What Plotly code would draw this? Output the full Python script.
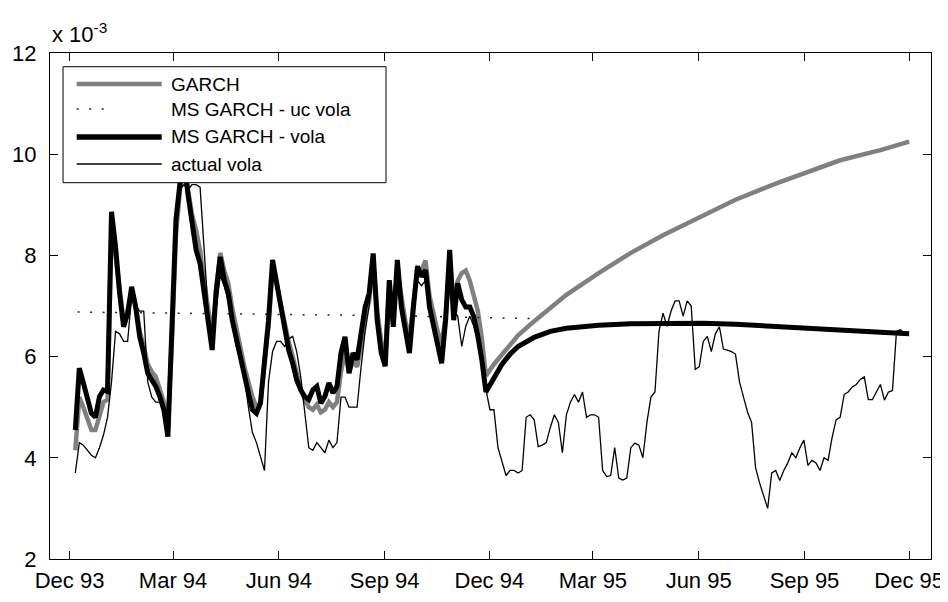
"""
GARCH vs MS GARCH volatility forecast chart.
Recreated with plotly: in-sample fit Dec 93 - Nov 94, forecast to Dec 95.
"""

import pandas as pd
import plotly.graph_objects as go

# half-week grid for the in-sample fit and the actual volatility
grid_start = "1993-12-06"

# values are in units of 1e-3
garch_in = [4.15, 5.2, 5.0, 4.75, 4.55, 4.55, 4.85, 5.1, 5.15, 8.5,
            8.0, 7.3, 6.7, 6.9, 7.3, 7.0, 6.5, 6.2, 5.85, 5.7,
            5.6, 5.35, 5.1, 4.7, 6.3, 8.4, 9.3, 9.8, 9.3, 8.8,
            8.5, 8.1, 7.5, 6.9, 6.4, 7.3, 8.05, 7.7, 7.45, 6.95,
            6.55, 6.15, 5.8, 5.5, 5.2, 5.0, 5.1, 5.9, 6.6, 7.7,
            7.45, 7.05, 6.65, 6.3, 6.0, 5.65, 5.35, 5.15, 5.0, 4.95,
            5.05, 4.9, 4.95, 5.1, 5.0, 5.1, 5.7, 6.1, 5.7, 5.9,
            5.8, 6.2, 6.8, 7.1, 7.9, 6.9, 6.3, 6.0, 7.4, 6.8,
            7.7, 7.2, 6.7, 6.35, 7.0, 7.75, 7.7, 7.9, 7.2, 6.8,
            6.5, 6.25, 6.8, 7.9, 7.1, 7.5, 7.65, 7.7, 7.5, 7.2,
            6.9, 6.35]

ms_garch_in = [4.55, 5.77, 5.48, 5.15, 4.88, 4.8, 5.21, 5.34, 5.31, 8.86,
               8.17, 7.25, 6.59, 6.85, 7.38, 6.98, 6.39, 6.07, 5.67, 5.54,
               5.41, 5.21, 4.95, 4.42, 6.59, 8.7, 9.43, 9.9, 9.2, 8.57,
               8.11, 7.84, 7.25, 6.72, 6.13, 7.3, 7.97, 7.51, 7.25, 6.72,
               6.33, 5.94, 5.61, 5.28, 4.95, 4.88, 5.08, 5.94, 6.72, 7.91,
               7.45, 6.98, 6.52, 6.13, 5.87, 5.54, 5.34, 5.21, 5.15, 5.34,
               5.41, 5.08, 5.21, 5.48, 5.28, 5.41, 6.07, 6.39, 5.67, 6.07,
               5.94, 6.39, 6.98, 7.25, 8.04, 6.72, 6.07, 5.81, 7.51, 6.59,
               7.91, 6.98, 6.46, 6.07, 6.98, 7.78, 7.58, 7.71, 6.98, 6.59,
               6.2, 5.87, 6.72, 8.11, 6.72, 7.45, 7.12, 6.98, 6.98, 6.79,
               6.4, 5.93]

actual_vola = [3.7, 4.3, 4.25, 4.15, 4.05, 4.0, 4.2, 4.45, 4.8, 5.5,
               6.5, 6.45, 6.3, 6.3, 7.2, 7.0, 6.9, 6.9, 5.5, 5.2,
               5.1, 5.1, 4.9, 4.5, 6.3, 8.5, 9.3, 9.4, 9.3, 9.4,
               9.4, 9.35, 8.0, 6.9, 6.3, 7.0, 7.6, 7.4, 7.1, 6.6,
               6.2, 5.9, 5.6, 5.0, 4.5, 4.3, 4.0, 3.75, 5.5, 6.1,
               6.3, 6.3, 6.2, 6.35, 6.4, 6.1, 5.6, 4.9, 4.2, 4.15,
               4.3, 4.2, 4.1, 4.35, 4.2, 4.3, 5.2, 5.2, 5.0, 5.0,
               5.0, 5.8, 6.5, 7.0, 7.8, 6.7, 6.2, 6.0, 7.2, 6.6,
               7.6, 7.0, 6.6, 6.3, 6.9, 7.5, 7.4, 7.5, 7.0, 6.6,
               6.3, 6.1, 6.7, 7.8, 6.9, 6.8, 6.2, 6.6, 6.8, 6.6,
               6.3, 5.8, 5.35, 4.95, 4.95, 4.2, 3.9, 3.65, 3.75, 3.75,
               3.7, 3.75, 4.8, 4.85, 4.75, 4.22, 4.25, 4.3, 4.6, 4.85,
               4.7, 4.1, 4.85, 5.1, 5.25, 5.1, 5.3, 4.8, 4.85, 4.85,
               4.8, 3.75, 3.63, 3.65, 4.2, 3.6, 3.56, 3.6, 4.2, 4.29,
               4.25, 4.0, 4.7, 5.2, 5.3, 6.5, 6.86, 6.6, 6.9, 7.1,
               7.1, 6.8, 7.1, 7.0, 5.75, 5.8, 6.3, 6.4, 6.1, 6.45,
               6.59, 6.15, 6.13, 6.1, 6.05, 5.5, 5.2, 4.9, 4.7, 3.8,
               3.5, 3.25, 3.0, 3.7, 3.75, 3.55, 3.75, 3.9, 4.1, 4.0,
               4.2, 4.35, 3.85, 3.95, 3.9, 3.75, 4.0, 3.95, 4.4, 4.75,
               4.8, 5.25, 5.3, 5.4, 5.45, 5.55, 5.6, 5.15, 5.15, 5.3,
               5.45, 5.14, 5.3, 5.33, 6.5, 6.53, 6.45]

# out-of-sample forecasts
forecast_dates = ["1994-11-28", "1994-12-05", "1994-12-12", "1994-12-19",
                  "1994-12-26", "1995-01-09", "1995-01-23", "1995-02-06",
                  "1995-03-06", "1995-04-03", "1995-05-01", "1995-06-05",
                  "1995-07-03", "1995-08-07", "1995-09-04", "1995-10-02",
                  "1995-11-06", "1995-12-01"]
garch_fc = [5.62, 5.85, 6.05, 6.25, 6.42, 6.7, 6.97, 7.22, 7.65, 8.05,
            8.4, 8.8, 9.1, 9.42, 9.65, 9.88, 10.08, 10.25]
ms_garch_fc = [5.3, 5.6, 5.85, 6.05, 6.2, 6.38, 6.5, 6.56, 6.62, 6.65,
               6.66, 6.66, 6.64, 6.59, 6.55, 6.52, 6.48, 6.45]

# unconditional vola of the MS GARCH model
uc_dates = ["1993-12-08", "1994-03-01", "1994-06-01", "1994-09-01",
            "1994-12-01", "1995-01-08"]
uc_vola = [6.88, 6.86, 6.83, 6.81, 6.77, 6.75]

tick_dates = ["1993-12-01", "1994-03-01", "1994-06-01", "1994-09-01",
              "1994-12-01", "1995-03-01", "1995-06-01", "1995-09-01",
              "1995-12-01"]
tick_labels = ["Dec 93", "Mar 94", "Jun 94", "Sep 94", "Dec 94",
               "Mar 95", "Jun 95", "Sep 95", "Dec 95"]
legend_names = ["GARCH", "MS GARCH - uc vola", "MS GARCH - vola", "actual vola"]

GRAY = "rgb(128,128,128)"
FONT = "Arial, Liberation Sans, sans-serif"


def grid(n):
    return list(pd.date_range(grid_start, periods=n, freq="84h"))


def add_legend(fig):
    """MATLAB style legend box with long line samples."""
    shapes = [dict(type="rect", xref="paper", yref="paper", layer="above",
                   x0=0.0148, x1=0.3814, y0=0.7437, y1=0.9729,
                   fillcolor="white", line=dict(color="black", width=1))]
    rows = [0.9387, 0.8893, 0.8340, 0.7806]
    styles = [dict(color=GRAY, width=4.5),
              dict(color="#222", width=1.5, dash="2px,10.5px"),
              dict(color="black", width=5.5),
              dict(color="black", width=1.3)]
    for i, (yy, st) in enumerate(zip(rows, styles)):
        x1 = 0.0636 if i == 1 else 0.1268
        shapes.append(dict(type="line", xref="paper", yref="paper",
                           layer="above", x0=0.0303, x1=x1, y0=yy, y1=yy,
                           line=st))
        fig.add_annotation(x=0.1351, y=yy, xref="paper", yref="paper",
                           text=legend_names[i], showarrow=False,
                           xanchor="left", yanchor="middle",
                           font=dict(family=FONT, size=19, color="black"))
    fig.update_layout(shapes=shapes)


fig = go.Figure()

fig.add_trace(go.Scatter(
    x=grid(len(garch_in)) + list(pd.to_datetime(forecast_dates)),
    y=garch_in + garch_fc,
    mode="lines", name=legend_names[0],
    line=dict(color=GRAY, width=4.5)))

fig.add_trace(go.Scatter(
    x=pd.to_datetime(uc_dates), y=uc_vola,
    mode="lines", name=legend_names[1],
    line=dict(color="#222", width=1.5, dash="2px,10.5px")))

fig.add_trace(go.Scatter(
    x=grid(len(ms_garch_in)) + list(pd.to_datetime(forecast_dates)),
    y=ms_garch_in + ms_garch_fc,
    mode="lines", name=legend_names[2],
    line=dict(color="black", width=5)))

fig.add_trace(go.Scatter(
    x=grid(len(actual_vola)), y=actual_vola,
    mode="lines", name=legend_names[3],
    line=dict(color="black", width=1.3)))

add_legend(fig)

fig.add_annotation(x=0, y=1, xref="paper", yref="paper",
                   text="x 10<sup>-3</sup>", showarrow=False,
                   xanchor="left", yanchor="bottom", yshift=4,
                   font=dict(family=FONT, size=22, color="black"))

axis_style = dict(showline=True, linecolor="black", linewidth=1,
                  mirror="allticks", ticks="inside", ticklen=8,
                  tickcolor="black", showgrid=False, zeroline=False,
                  automargin=False,
                  tickfont=dict(family=FONT, size=22, color="black"))

fig.update_xaxes(range=["1993-11-14", "1995-12-20"],
                 tickvals=pd.to_datetime(tick_dates), ticktext=tick_labels,
                 ticklabelstandoff=2, **axis_style)
fig.update_yaxes(range=[2, 12], tickvals=[2, 4, 6, 8, 10, 12],
                 ticklabelstandoff=8, **axis_style)

# the page body adds an 8px offset, margins compensate for it
fig.update_layout(
    width=948, height=602,
    showlegend=False,
    plot_bgcolor="white", paper_bgcolor="white",
    margin=dict(l=42, r=25, t=45, b=51),
)

fig.write_html("out.html")
